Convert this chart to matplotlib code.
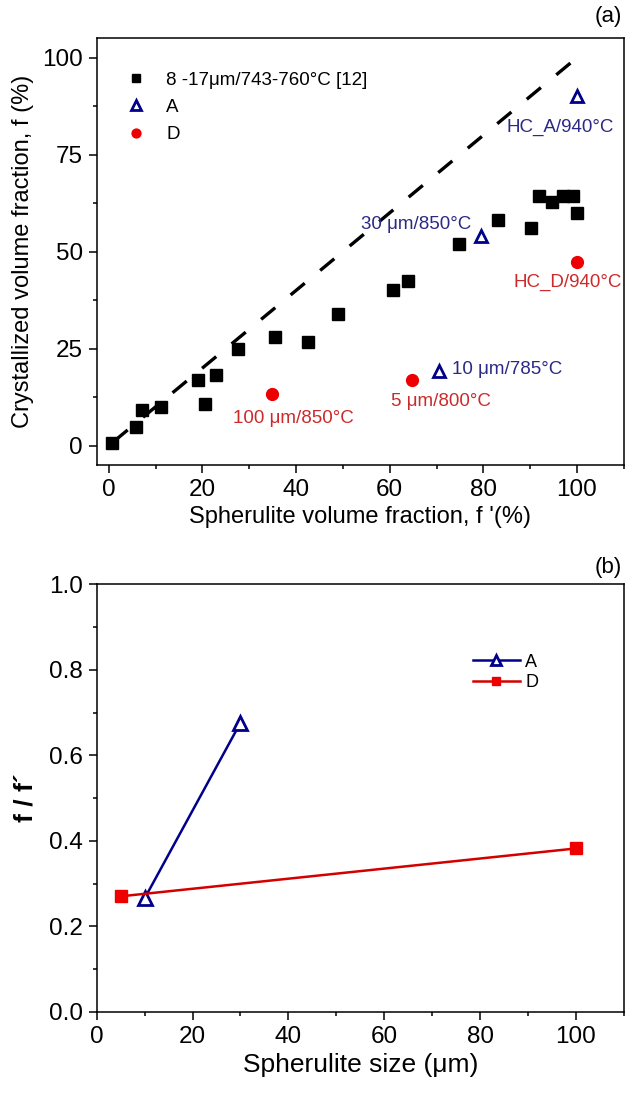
import matplotlib
matplotlib.use("Agg")
import matplotlib.pyplot as plt
from matplotlib.ticker import MultipleLocator

plt.rcParams['font.family'] = ['Liberation Sans', 'DejaVu Sans']

# (a) literature data, 8-17 um / 743-760 C
ref_x = [0.6, 5.7, 7.1, 11.2, 19.0, 20.6, 22.9, 27.6, 35.5, 42.5, 48.9, 60.8, 64.0,
         74.8, 83.2, 90.2, 92.0, 94.7, 97.0, 99.1, 100.0]
ref_y = [0.7, 4.8, 9.1, 9.9, 16.8, 10.8, 18.3, 25.0, 28.0, 26.7, 33.8, 40.2, 42.5,
         52.0, 58.2, 56.0, 64.3, 62.7, 64.3, 64.3, 59.9]
# (a) alloy A and D
a_x = [70.5, 79.4, 100.0]
a_y = [19.3, 54.1, 90.2]
d_x = [34.9, 64.8, 100.0]
d_y = [13.2, 17.0, 47.3]
diag = [1, 100]

# (b) f/f' vs spherulite size
size_a = [10, 30]
ratio_a = [0.265, 0.676]
size_d = [5, 100]
ratio_d = [0.27, 0.382]

BLUE = '#00008b'
RED = '#ee0000'
TXT_BLUE = '#2a2a86'
TXT_RED = '#cc2a2a'

fig = plt.figure(figsize=(6.25, 10.94), dpi=100)
ax1 = fig.add_axes([0.1547, 0.575, 0.8433, 0.39])
ax2 = fig.add_axes([0.1547, 0.0752, 0.8433, 0.3907])

for ax in (ax1, ax2):
    for s in ax.spines.values():
        s.set_linewidth(1.1)
    ax.tick_params(which='major', direction='out', length=6, width=1.1, labelsize=17.5, pad=4)
    ax.tick_params(which='minor', direction='out', length=3, width=1.1)

# panel (a)
ax1.plot(diag, diag, color='black', lw=2.4, dashes=(5.5, 6))
ax1.plot(ref_x, ref_y, 's', color='black', ms=8.5, ls='none', label='8 -17\u03bcm/743-760\u00b0C [12]')
ax1.plot(a_x, a_y, '^', mfc='white', mec=BLUE, mew=2, ms=9, ls='none', label='A')
ax1.plot(d_x, d_y, 'o', color=RED, ms=8.5, ls='none', label='D')
ax1.set_xlim(-2.6, 110)
ax1.set_ylim(-5, 105)
ax1.xaxis.set_major_locator(MultipleLocator(20))
ax1.xaxis.set_minor_locator(MultipleLocator(10))
ax1.yaxis.set_major_locator(MultipleLocator(25))
ax1.yaxis.set_minor_locator(MultipleLocator(12.5))
ax1.set_xlabel("Spherulite volume fraction, f '(%)", fontsize=17, labelpad=4)
ax1.set_ylabel("Crystallized volume fraction, f (%)", fontsize=17, labelpad=6)
ax1.legend(loc='upper left', bbox_to_anchor=(0.025, 0.94), frameon=False, fontsize=13.5,
           handletextpad=0.6, labelspacing=0.55, markerscale=0.75, borderaxespad=0)

fs = 13.5
ax1.text(85, 82, 'HC_A/940\u00b0C', color=TXT_BLUE, fontsize=fs, va='center', ha='left')
ax1.text(53.8, 57.1, '30 \u03bcm/850\u00b0C', color=TXT_BLUE, fontsize=fs, va='center', ha='left')
ax1.text(109.5, 42.1, 'HC_D/940\u00b0C', color=TXT_RED, fontsize=fs, va='center', ha='right')
ax1.text(73.3, 19.6, '10 \u03bcm/785\u00b0C', color=TXT_BLUE, fontsize=fs, va='center', ha='left')
ax1.text(60.2, 11.4, '5 \u03bcm/800\u00b0C', color=TXT_RED, fontsize=fs, va='center', ha='left')
ax1.text(26.5, 7.1, '100 \u03bcm/850\u00b0C', color=TXT_RED, fontsize=fs, va='center', ha='left')

fig.text(0.995, 0.985, '(a)', fontsize=16, ha='right', va='center')

# panel (b)
ax2.plot(size_a, ratio_a, '-^', color=BLUE, mfc='white', mec=BLUE, mew=2, ms=10, lw=1.8, label='A')
ax2.plot(size_d, ratio_d, '-s', color='#d40000', mfc=RED, mec=RED, ms=8, lw=1.8, label='D')
ax2.set_xlim(0, 110)
ax2.set_ylim(0, 1.0)
ax2.xaxis.set_major_locator(MultipleLocator(20))
ax2.xaxis.set_minor_locator(MultipleLocator(10))
ax2.yaxis.set_major_locator(MultipleLocator(0.2))
ax2.yaxis.set_minor_locator(MultipleLocator(0.1))
ax2.yaxis.set_major_formatter(plt.FormatStrFormatter('%.1f'))
ax2.set_xlabel('Spherulite size (\u03bcm)', fontsize=19, labelpad=4)
ax2.set_ylabel("f / f\u00b4", fontsize=19, fontweight='bold', labelpad=8)
ax2.legend(loc='upper left', bbox_to_anchor=(0.70, 0.855), frameon=False, fontsize=13,
           handlelength=2.6, handletextpad=0.3, labelspacing=0.2, markerscale=0.7, borderaxespad=0)

fig.text(0.995, 0.481, '(b)', fontsize=16, ha='right', va='center')

fig.savefig('out.png', dpi=100)
